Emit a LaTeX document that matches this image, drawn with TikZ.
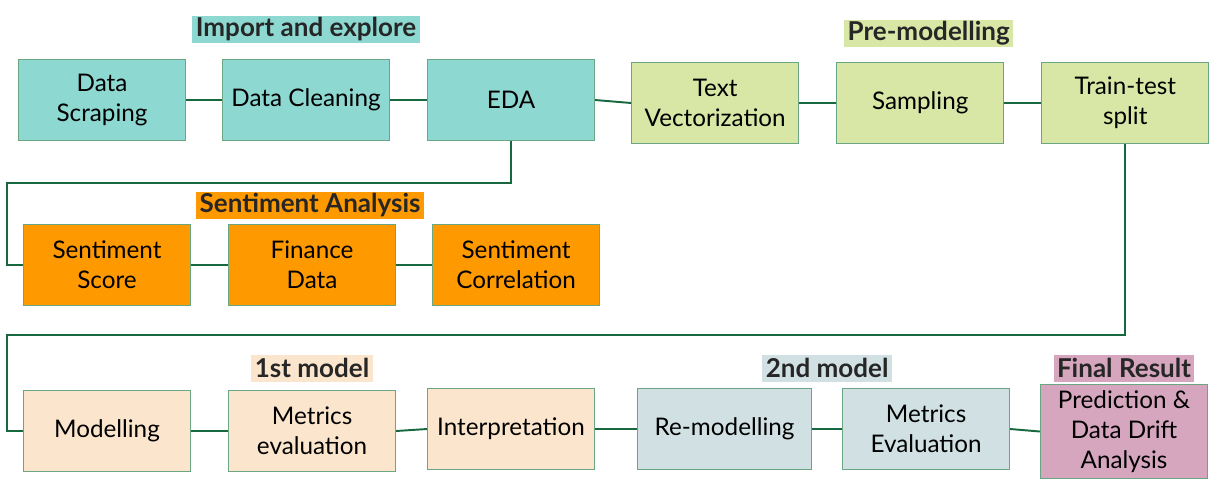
\documentclass[tikz,border=0pt]{standalone}
\usepackage{fontspec}
\setmainfont{Lato}
\usepackage{xcolor}
\usepackage{tikz}
\usetikzlibrary{positioning, calc}

\definecolor{tealfill}{HTML}{8ED8D2}
\definecolor{limefill}{HTML}{D8E6A6}
\definecolor{orangefill}{HTML}{FF9900}
\definecolor{peachfill}{HTML}{FCE5CD}
\definecolor{bluefill}{HTML}{D0E0E3}
\definecolor{pinkfill}{HTML}{D5A6BD}
\definecolor{boxedge}{HTML}{6BA684}
\definecolor{linkgreen}{HTML}{17683F}

\begin{document}
\begin{tikzpicture}[
    stage/.style={draw=boxedge, line width=0.6pt, rectangle, minimum width=3.34cm, minimum height=1.62cm, align=center, font=\fontsize{13.8}{17}\selectfont},
    tag/.style={rectangle, inner xsep=2pt, inner ysep=0pt, minimum height=0.54cm, font=\fontsize{14.8}{16}\selectfont\bfseries, text=black!85},
    link/.style={draw=linkgreen, line width=1.1pt}
]

\useasboundingbox (0,0) rectangle (24.34,-9.8);

% Nodes
\node[stage, fill=tealfill] (scrap) at (2.04,-2.00) {Data\\Scraping};
\node[stage, fill=tealfill, right=0.72cm of scrap] (clean) {Data Cleaning};
\node[stage, fill=tealfill, right=0.74cm of clean] (eda) {EDA};
\node[stage, fill=limefill, right=0.72cm of eda, yshift=-0.06cm] (vect) {Text\\Vectorization};
\node[stage, fill=limefill, right=0.74cm of vect] (samp) {Sampling};
\node[stage, fill=limefill, right=0.74cm of samp] (split) {Train-test\\split};

\node[stage, fill=orangefill] (sscore) at (2.14,-5.30) {Sentiment\\Score};
\node[stage, fill=orangefill, right=0.74cm of sscore] (fin) {Finance\\Data};
\node[stage, fill=orangefill, right=0.72cm of fin] (scorr) {Sentiment\\Correlation};

\node[stage, fill=peachfill] (model) at (2.14,-8.62) {Modelling};
\node[stage, fill=peachfill, right=0.74cm of model] (metr1) {Metrics\\evaluation};
\node[stage, fill=peachfill] (interp) at (10.22,-8.58) {Interpretation};
\node[stage, fill=bluefill, minimum width=3.48cm, right=0.84cm of interp] (remod) {Re-modelling};
\node[stage, fill=bluefill, right=0.60cm of remod] (metr2) {Metrics\\Evaluation};
\node[stage, fill=pinkfill] (final) at (22.48,-8.63) {Prediction \&\\Data Drift\\Analysis};

% Group labels
\node[tag, fill=tealfill, above=0.32cm of clean] (tag0) {Import and explore};
\node[tag, fill=limefill, above=0.30cm of samp, xshift=0.17cm] (tagpre) {Pre-modelling};
\node[tag, fill=orangefill, above=0.10cm of fin, xshift=-0.04cm] (tagsent) {Sentiment Analysis};
\node[tag, fill=peachfill, above=0.16cm of metr1] (tag1) {1st model};
\node[tag, fill=bluefill] (tag2) at ([xshift=0.30cm] remod.north east |- tag1) {2nd model};
\node[tag, fill=pinkfill] (tagfin) at (final.north |- tag1) {Final Result};

% Bends of the long connectors
\coordinate (bend1) at (0.14,-3.66);
\coordinate (bend2) at (0.14,-6.70);

% Edges
\draw[link] (scrap.east) -- (clean.west);
\draw[link] (clean.east) -- (eda.west);
\draw[link] (eda.east) -- (vect.west);
\draw[link] (vect.east) -- (samp.west);
\draw[link] (samp.east) -- (split.west);
\draw[link] (eda.south) |- (bend1) |- (sscore.west);
\draw[link] (sscore.east) -- (fin.west);
\draw[link] (fin.east) -- (scorr.west);
\draw[link] (split.south) |- (bend2) |- (model.west);
\draw[link] (model.east) -- (metr1.west);
\draw[link] (metr1.east) -- (interp.west);
\draw[link] (interp.east) -- (remod.west);
\draw[link] (remod.east) -- (metr2.west);
\draw[link] (metr2.east) -- (final.west);

\end{tikzpicture}
\end{document}
